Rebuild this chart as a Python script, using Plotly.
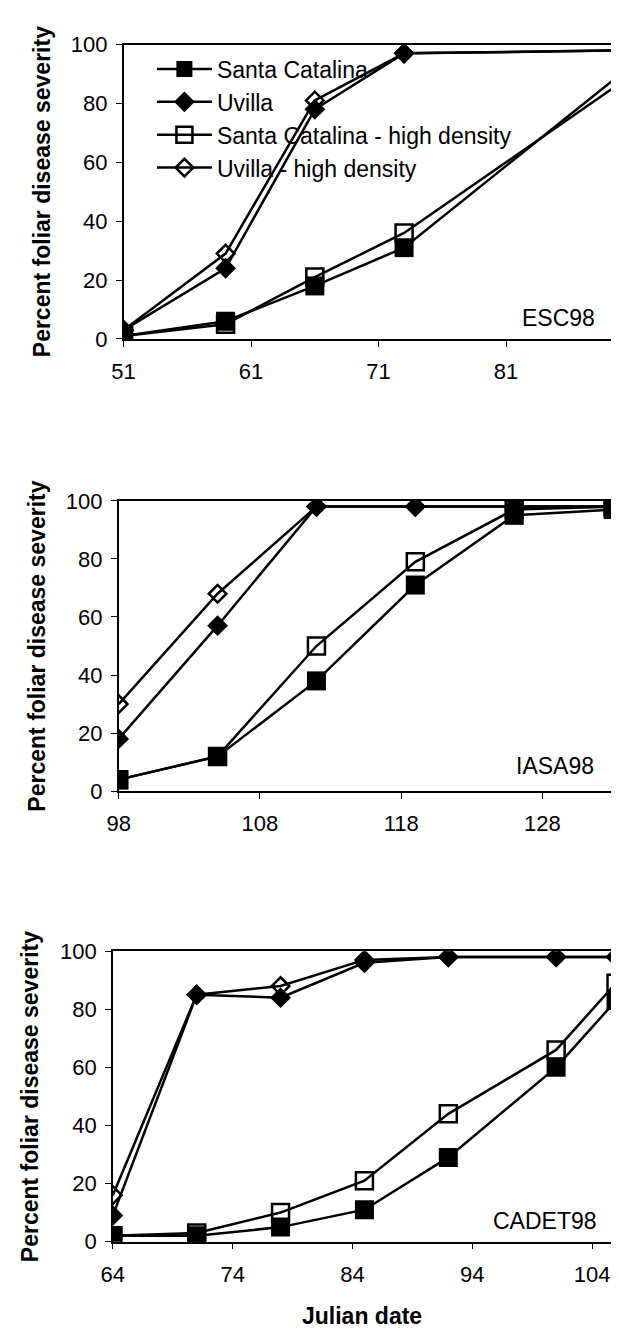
import plotly.graph_objects as go

# ---------------- data ----------------
panel_names = ["ESC98", "IASA98", "CADET98"]
series_names = ["Santa Catalina", "Uvilla",
                "Santa Catalina - high density", "Uvilla - high density"]

esc_days = [51, 59, 66, 73, 90]
esc_sc = [1, 6, 18, 31, 90]
esc_uv = [3, 24, 78, 97, 98]
esc_sc_hd = [1, 5, 21, 36, 87]
esc_uv_hd = [3, 29, 81, 97, 98]

iasa_days = [98, 105, 112, 119, 126, 133]
iasa_sc = [4, 12, 38, 71, 95, 97]
iasa_uv = [18, 57, 98, 98, 98, 98]
iasa_sc_hd = [4, 12, 50, 79, 97, 98]
iasa_uv_hd = [30, 68, 98, 98, 98, 98]

cadet_days = [64, 71, 78, 85, 92, 101, 106]
cadet_sc = [2, 2, 5, 11, 29, 60, 83]
cadet_uv = [9, 85, 84, 96, 98, 98, 98]
cadet_sc_hd = [2, 3, 10, 21, 44, 66, 89]
cadet_uv_hd = [16, 85, 88, 97, 98, 98, 98]

x_ranges = [[51, 89.7], [98, 133], [64, 106]]
x_tick0 = [51, 98, 64]
y_ticks = [0, 20, 40, 60, 80, 100]
y_title = "Percent foliar disease severity"
x_title = "Julian date"

panels = [
    (esc_days, [esc_sc, esc_uv, esc_sc_hd, esc_uv_hd]),
    (iasa_days, [iasa_sc, iasa_uv, iasa_sc_hd, iasa_uv_hd]),
    (cadet_days, [cadet_sc, cadet_uv, cadet_sc_hd, cadet_uv_hd]),
]

# ---------------- layout geometry (page pixels; page body has 8px margin) ----------------
OFF = 8
W, H = 619 - OFF, 1340 - OFF
FONT = "Liberation Sans, Arial, sans-serif"
plot_px = [  # left, right, top, bottom  (page coordinates)
    (114, 619, 33, 333),
    (109, 615, 498, 794),
    (103, 618, 957, 1253),
]
ytitle_x = [30, 25, 19]
label_pos = [(599, 312), (597, 768), (601, 1232)]


def fx(px):
    return (px - OFF) / W


def fy(py):
    return 1 - (py - OFF) / H


styles = [
    dict(symbol="square", size=19, color="black", line=dict(width=0, color="black")),
    dict(symbol="diamond", size=16, color="black", line=dict(width=0, color="black")),
    dict(symbol="square-open", size=17, color="black", line=dict(width=2.5, color="black")),
    dict(symbol="diamond-open", size=13.5, color="black", line=dict(width=2.5, color="black")),
]

fig = go.Figure()
for p, (days, series) in enumerate(panels):
    xa = "x" if p == 0 else f"x{p+1}"
    ya = "y" if p == 0 else f"y{p+1}"
    for s, vals in enumerate(series):
        fig.add_trace(go.Scatter(
            x=days, y=vals, mode="lines+markers", name=series_names[s],
            xaxis=xa, yaxis=ya, showlegend=(p == 0),
            line=dict(color="black", width=2.5),
            marker=styles[s], cliponaxis=True,
        ))

layout = dict(
    width=W, height=H, margin=dict(l=0, r=0, t=0, b=0),
    paper_bgcolor="white", plot_bgcolor="white",
    font=dict(family=FONT, size=22, color="black"),
    showlegend=True,
    legend=dict(x=fx(143), y=fy(36), xanchor="left", yanchor="top",
                bgcolor="rgba(0,0,0,0)", font=dict(size=23, family=FONT),
                itemwidth=55, tracegroupgap=0, borderwidth=0),
)
annotations = []
for p in range(3):
    l, r, t, b = plot_px[p]
    xk = "xaxis" if p == 0 else f"xaxis{p+1}"
    yk = "yaxis" if p == 0 else f"yaxis{p+1}"
    xa = "x" if p == 0 else f"x{p+1}"
    ya = "y" if p == 0 else f"y{p+1}"
    layout[xk] = dict(
        domain=[fx(l), min(fx(r), 1.0)], anchor=ya, range=x_ranges[p],
        tick0=x_tick0[p], dtick=10, ticks="outside", ticklen=6, tickwidth=1.2,
        tickcolor="black", showline=True, linecolor="black", linewidth=1.5,
        mirror=True, showgrid=False, zeroline=False,
        tickfont=dict(size=22, family=FONT), ticklabelstandoff=6,
    )
    layout[yk] = dict(
        domain=[fy(b), fy(t)], anchor=xa, range=[0, 100],
        tickvals=y_ticks, ticks="outside", ticklen=6, tickwidth=1.2,
        tickcolor="black", showline=True, linecolor="black", linewidth=1.5,
        mirror=True, showgrid=False, zeroline=False,
        tickfont=dict(size=22, family=FONT), ticklabelstandoff=4,
    )
    annotations.append(dict(
        text=f"<b>{y_title}</b>", x=fx(ytitle_x[p]), y=fy((t + b) / 2),
        xref="paper", yref="paper", textangle=-90, showarrow=False,
        xanchor="center", yanchor="middle", font=dict(size=23, family=FONT)))
    lx, ly = label_pos[p]
    annotations.append(dict(
        text=panel_names[p], x=fx(lx), y=fy(ly), xref="paper", yref="paper",
        showarrow=False, xanchor="right", yanchor="middle",
        font=dict(size=23, family=FONT)))
annotations.append(dict(
    text=f"<b>{x_title}</b>", x=fx(358), y=fy(1329), xref="paper",
    yref="paper", showarrow=False, xanchor="center", yanchor="middle",
    font=dict(size=23, family=FONT)))
layout["annotations"] = annotations
fig.update_layout(**layout)

fig.write_html("out.html")
